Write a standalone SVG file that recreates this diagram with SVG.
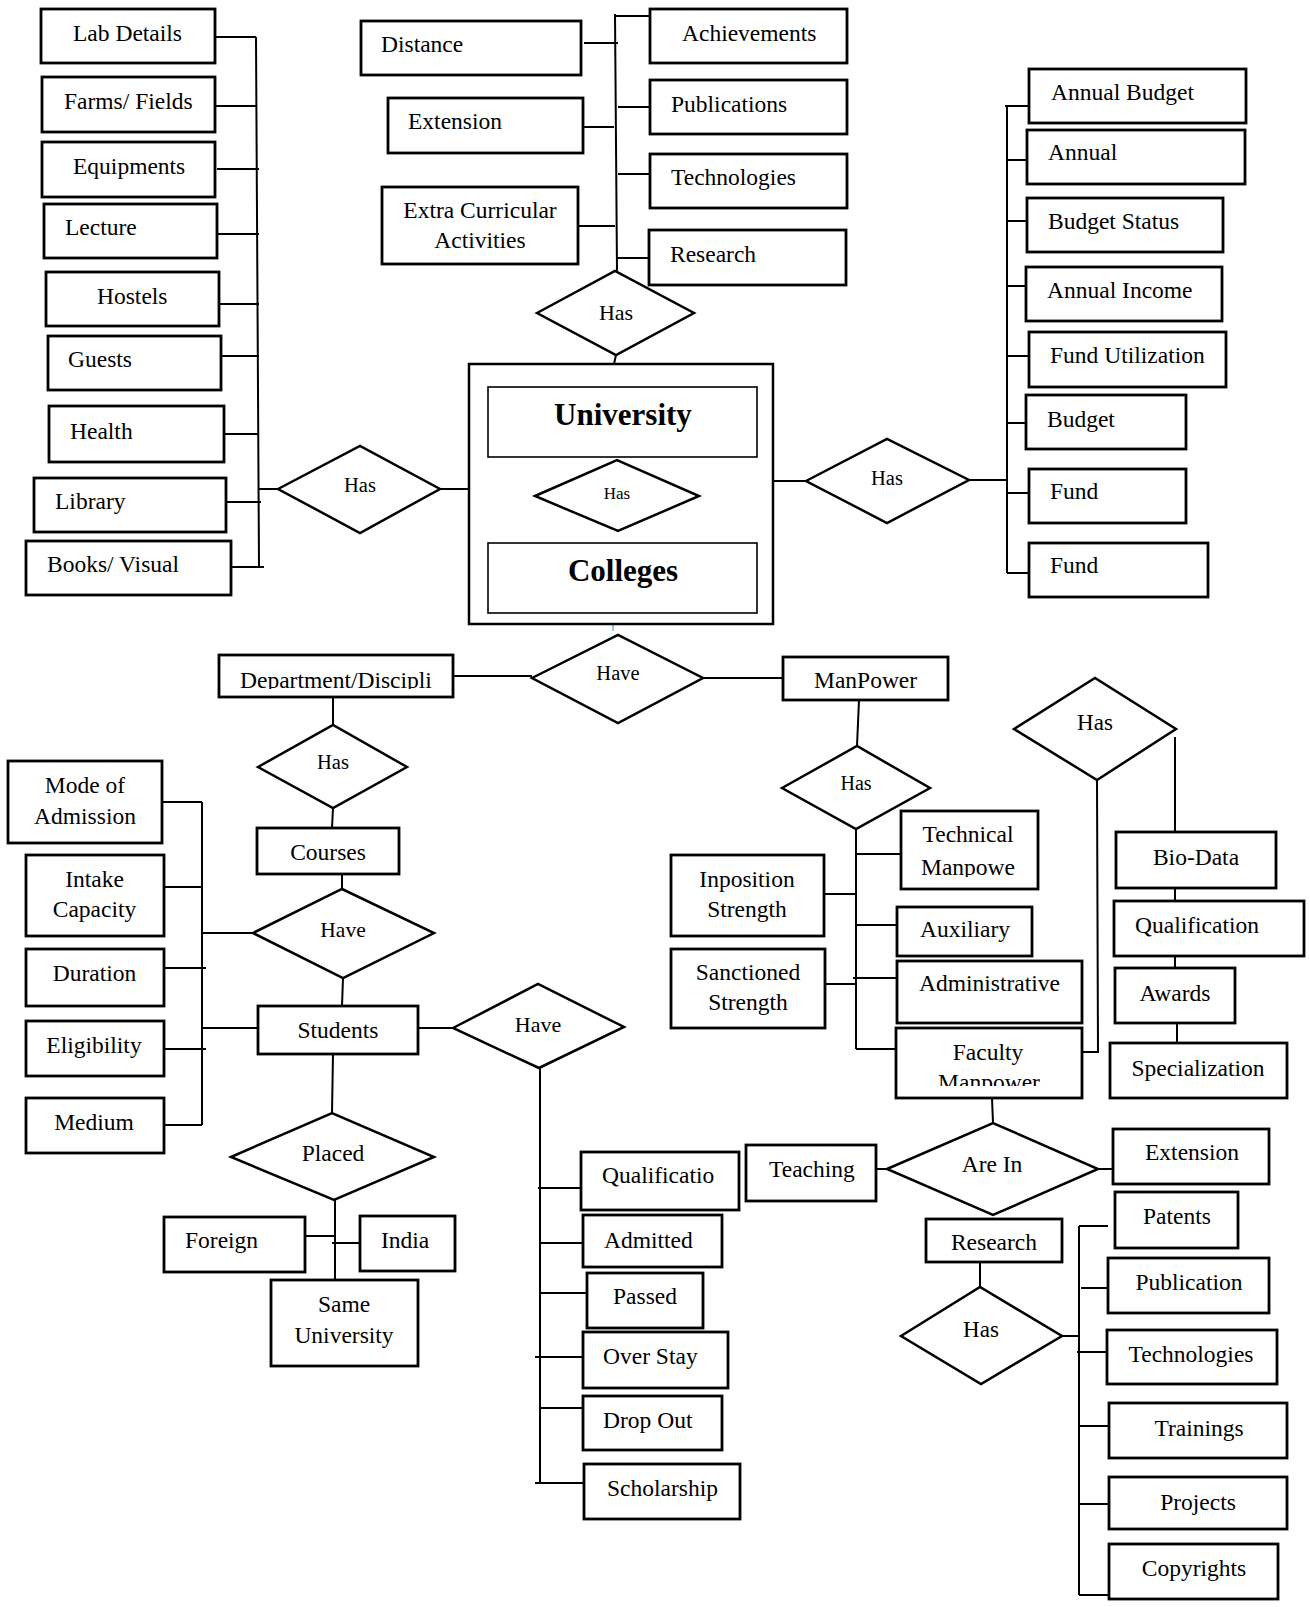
<svg xmlns="http://www.w3.org/2000/svg" width="1310" height="1607" viewBox="0 0 1310 1607">
<style>
.b{fill:#fff;stroke:#000;stroke-width:2.8}
.ib{fill:#fff;stroke:#000;stroke-width:1.6}
.d{fill:#fff;stroke:#000;stroke-width:2.5}
.c{stroke:#000;stroke-width:2;fill:none}
.t{font-family:"Liberation Serif","Times New Roman",serif;font-size:23.5px;fill:#000}
.m{text-anchor:middle}
.s20{font-size:20.5px}
.s22{font-size:22px}
.big{font-size:31px;font-weight:bold}
</style>
<defs>
<clipPath id="clipDept"><rect x="219" y="650" width="234" height="39"/></clipPath>
<clipPath id="clipTech"><rect x="901" y="805" width="137" height="72"/></clipPath>
<clipPath id="clipFac"><rect x="896" y="1020" width="186" height="66"/></clipPath>
</defs>
<rect width="1310" height="1607" fill="#fff"/>
<g id="connectors">
<path class="c" d="M256 37 L259 567 M215 37 H256 M215 106 H257 M217 169 H259 M217 234 H259 M219 304 H259 M221 356 H259 M224 434 H259 M226 502 H261 M231 567 H264 M259 489 H278"/>
<path class="c" d="M440 489 H469"/>
<path class="c" d="M615 14 L617 271 M584 43 H618 M581 127 H614 M578 226 H615 M615 16 H650 M618 107 H650 M618 174 H650 M617 258 H650"/>
<path class="c" d="M616 355 L614 364"/>
<path class="c" d="M617 457 V460 M618 531 V543"/>
<path class="c" d="M773 481 H806 M969 480 H1008 M1007 106 V573 M1005 106 H1029 M1007 160 H1027 M1007 221 H1027 M1007 286 H1026 M1007 356 H1029 M1007 423 H1026 M1007 493 H1029 M1007 573 H1029"/>
<path class="c" d="M448 676 H532 M703 678 H783 M859 700 L857 746"/>
<path class="c" d="M333 697 V725 M333 808 L332 828 M342 874 V889 M343 978 L342 1006"/>
<path class="c" d="M202 802 V1125 M159 802 H202 M164 887 H202 M202 933 H253 M160 968 H206 M202 1028 H258 M160 1049 H206 M164 1125 H202"/>
<path class="c" d="M333 1054 L332 1113 M335 1200 V1280 M305 1236 H335 M332 1243 H360"/>
<path class="c" d="M418 1028 H453 M540 1068 V1483 M538 1188 H581 M540 1243 H583 M540 1293 H587 M535 1357 H583 M540 1408 H583 M535 1483 H584"/>
<path class="c" d="M856 829 V1049 M856 854 H901 M824 894 H857 M856 925 H897 M853 978 H897 M825 984 H856 M856 1049 H896"/>
<path class="c" d="M1082 1052 H1098 L1097 780 M1175 737 V832 M1175 888 V901 M1175 956 V968 M1177 1023 V1043"/>
<path class="c" d="M992 1098 L993 1123 M876 1169 H887 M1098 1169 H1113"/>
<path class="c" d="M980 1262 V1287 M1062 1336 H1079 M1079 1226 V1595 M1079 1226 H1108 M1081 1288 H1108 M1077 1352 H1107 M1079 1426 H1109 M1079 1504 H1109 M1079 1595 H1109"/>
<path d="M613 625 V631" stroke="#5b9bd5" stroke-width="1.2"/>
</g>
<g id="lab-details"><rect class="b" x="41" y="9" width="174" height="54"/><text class="t" x="73" y="41">Lab Details</text></g>
<g id="farms-fields"><rect class="b" x="42" y="77" width="173" height="55"/><text class="t" x="64" y="109">Farms/ Fields</text></g>
<g id="equipments"><rect class="b" x="42" y="142" width="173" height="55"/><text class="t" x="73" y="174">Equipments</text></g>
<g id="lecture"><rect class="b" x="44" y="204" width="173" height="54"/><text class="t" x="65" y="235">Lecture</text></g>
<g id="hostels"><rect class="b" x="46" y="272" width="173" height="54"/><text class="t" x="97" y="304">Hostels</text></g>
<g id="guests"><rect class="b" x="48" y="336" width="173" height="54"/><text class="t" x="68" y="367">Guests</text></g>
<g id="health"><rect class="b" x="49" y="406" width="175" height="56"/><text class="t" x="70" y="439">Health</text></g>
<g id="library"><rect class="b" x="34" y="478" width="192" height="54"/><text class="t" x="55" y="509">Library</text></g>
<g id="books-visual"><rect class="b" x="26" y="541" width="205" height="54"/><text class="t" x="47" y="572">Books/ Visual</text></g>
<g id="has-left"><polygon class="d" points="278,489 360,446 440,489 360,533"/><text class="t s20 m" x="360" y="492">Has</text></g>
<g id="distance"><rect class="b" x="361" y="21" width="220" height="54"/><text class="t" x="381" y="52">Distance</text></g>
<g id="extension-top"><rect class="b" x="388" y="98" width="195" height="55"/><text class="t" x="408" y="129">Extension</text></g>
<g id="extra-curricular"><rect class="b" x="382" y="187" width="196" height="77"/><text class="t m" x="480" y="218">Extra Curricular</text><text class="t m" x="480" y="248">Activities</text></g>
<g id="achievements"><rect class="b" x="650" y="9" width="197" height="54"/><text class="t" x="682" y="41">Achievements</text></g>
<g id="publications"><rect class="b" x="650" y="80" width="197" height="54"/><text class="t" x="671" y="112">Publications</text></g>
<g id="technologies-top"><rect class="b" x="650" y="154" width="197" height="54"/><text class="t" x="671" y="185">Technologies</text></g>
<g id="research-top"><rect class="b" x="649" y="230" width="197" height="55"/><text class="t" x="670" y="262">Research</text></g>
<g id="has-top"><polygon class="d" points="537,313 615,271 694,313 616,355"/><text class="t s22 m" x="616" y="320">Has</text></g>
<g id="university-colleges">
<rect x="469" y="364" width="304" height="260" fill="#fff" stroke="#000" stroke-width="2.5"/>
<rect class="ib" x="488" y="387" width="269" height="70"/><text class="t big m" x="623" y="425">University</text>
<polygon class="d" points="535,496 617,460 699,496 618,531"/><text class="t m" style="font-size:17px" x="617" y="499">Has</text>
<rect class="ib" x="488" y="543" width="269" height="70"/><text class="t big m" x="623" y="581">Colleges</text>
</g>
<g id="has-right"><polygon class="d" points="806,481 887,439 969,480 887,523"/><text class="t s20 m" x="887" y="485">Has</text></g>
<g id="annual-budget"><rect class="b" x="1029" y="69" width="217" height="54"/><text class="t" x="1051" y="100">Annual Budget</text></g>
<g id="annual"><rect class="b" x="1027" y="130" width="218" height="54"/><text class="t" x="1048" y="160">Annual</text></g>
<g id="budget-status"><rect class="b" x="1027" y="198" width="196" height="54"/><text class="t" x="1048" y="229">Budget Status</text></g>
<g id="annual-income"><rect class="b" x="1026" y="267" width="196" height="54"/><text class="t" x="1047" y="298">Annual Income</text></g>
<g id="fund-utilization"><rect class="b" x="1029" y="332" width="197" height="55"/><text class="t" x="1050" y="363">Fund Utilization</text></g>
<g id="budget"><rect class="b" x="1026" y="395" width="160" height="54"/><text class="t" x="1047" y="427">Budget</text></g>
<g id="fund-1"><rect class="b" x="1029" y="469" width="157" height="54"/><text class="t" x="1050" y="499">Fund</text></g>
<g id="fund-2"><rect class="b" x="1029" y="543" width="179" height="54"/><text class="t" x="1050" y="573">Fund</text></g>
<g id="department"><rect class="b" x="219" y="655" width="234" height="42"/><text class="t" x="240" y="688" clip-path="url(#clipDept)">Department/Discipli</text></g>
<g id="have-center"><polygon class="d" points="532,678 618,635 703,678 618,723"/><text class="t s20 m" x="618" y="680">Have</text></g>
<g id="manpower"><rect class="b" x="783" y="657" width="165" height="43"/><text class="t" x="814" y="688">ManPower</text></g>
<g id="has-dept"><polygon class="d" points="258,767 333,725 407,767 333,808"/><text class="t s20 m" x="333" y="769">Has</text></g>
<g id="courses"><rect class="b" x="257" y="828" width="142" height="46"/><text class="t m" x="328" y="860">Courses</text></g>
<g id="have-courses"><polygon class="d" points="253,933 342,889 434,933 343,978"/><text class="t m" style="font-size:21.5px" x="343" y="937">Have</text></g>
<g id="students"><rect class="b" x="258" y="1006" width="160" height="48"/><text class="t m" x="338" y="1038">Students</text></g>
<g id="mode-of-admission"><rect class="b" x="8" y="761" width="154" height="82"/><text class="t m" x="85" y="793">Mode of</text><text class="t m" x="85" y="824">Admission</text></g>
<g id="intake-capacity"><rect class="b" x="26" y="855" width="138" height="81"/><text class="t m" x="94.5" y="887">Intake</text><text class="t m" x="94.5" y="917">Capacity</text></g>
<g id="duration"><rect class="b" x="26" y="949" width="138" height="57"/><text class="t m" x="94.5" y="981">Duration</text></g>
<g id="eligibility"><rect class="b" x="26" y="1021" width="138" height="55"/><text class="t m" x="94" y="1053">Eligibility</text></g>
<g id="medium"><rect class="b" x="26" y="1098" width="138" height="55"/><text class="t m" x="94" y="1130">Medium</text></g>
<g id="placed"><polygon class="d" points="231,1157 332,1113 434,1157 334,1200"/><text class="t m" x="333" y="1161">Placed</text></g>
<g id="foreign"><rect class="b" x="164" y="1217" width="141" height="55"/><text class="t" x="185" y="1248">Foreign</text></g>
<g id="india"><rect class="b" x="360" y="1216" width="95" height="55"/><text class="t" x="381" y="1248">India</text></g>
<g id="same-university"><rect class="b" x="271" y="1280" width="147" height="86"/><text class="t m" x="344" y="1312">Same</text><text class="t m" x="344" y="1343">University</text></g>
<g id="have-students"><polygon class="d" points="453,1028 538,984 624,1027 539,1068"/><text class="t s22 m" x="538" y="1032">Have</text></g>
<g id="qualificatio"><rect class="b" x="581" y="1152" width="158" height="58"/><text class="t" x="602" y="1183">Qualificatio</text></g>
<g id="admitted"><rect class="b" x="583" y="1215" width="139" height="52"/><text class="t" x="604" y="1248">Admitted</text></g>
<g id="passed"><rect class="b" x="587" y="1273" width="116" height="55"/><text class="t m" x="645" y="1304">Passed</text></g>
<g id="over-stay"><rect class="b" x="583" y="1332" width="145" height="56"/><text class="t" x="603" y="1364">Over Stay</text></g>
<g id="drop-out"><rect class="b" x="583" y="1396" width="139" height="54"/><text class="t" x="603" y="1428">Drop Out</text></g>
<g id="scholarship"><rect class="b" x="584" y="1464" width="156" height="55"/><text class="t" x="607" y="1496">Scholarship</text></g>
<g id="has-manpower"><polygon class="d" points="782,788 857,746 930,788 856,829"/><text class="t m" style="font-size:20px" x="856" y="790">Has</text></g>
<g id="technical-manpowe"><rect class="b" x="901" y="811" width="137" height="78"/><text class="t m" x="968" y="842">Technical</text><text class="t m" x="968" y="875" clip-path="url(#clipTech)">Manpowe</text></g>
<g id="inposition-strength"><rect class="b" x="671" y="855" width="153" height="81"/><text class="t m" x="747" y="887">Inposition</text><text class="t m" x="747" y="917">Strength</text></g>
<g id="sanctioned-strength"><rect class="b" x="671" y="949" width="154" height="79"/><text class="t m" x="748" y="980">Sanctioned</text><text class="t m" x="748" y="1010">Strength</text></g>
<g id="auxiliary"><rect class="b" x="897" y="907" width="135" height="49"/><text class="t" x="920" y="937">Auxiliary</text></g>
<g id="administrative"><rect class="b" x="897" y="961" width="185" height="62"/><text class="t" x="919" y="991">Administrative</text></g>
<g id="faculty-manpower"><rect class="b" x="896" y="1028" width="186" height="70"/><text class="t m" x="988" y="1060">Faculty</text><text class="t m" x="989" y="1090" clip-path="url(#clipFac)">Manpower</text></g>
<g id="has-faculty"><polygon class="d" points="1014,729 1095,678 1176,729 1097,780"/><text class="t m" style="font-size:23px" x="1095" y="730">Has</text></g>
<g id="bio-data"><rect class="b" x="1116" y="832" width="160" height="56"/><text class="t m" x="1196" y="865">Bio-Data</text></g>
<g id="qualification"><rect class="b" x="1114" y="901" width="190" height="55"/><text class="t" x="1135" y="933">Qualification</text></g>
<g id="awards"><rect class="b" x="1115" y="968" width="120" height="55"/><text class="t m" x="1175" y="1001">Awards</text></g>
<g id="specialization"><rect class="b" x="1110" y="1043" width="177" height="55"/><text class="t m" x="1198" y="1076">Specialization</text></g>
<g id="are-in"><polygon class="d" points="887,1169 993,1123 1098,1169 993,1215"/><text class="t m" x="992" y="1172">Are In</text></g>
<g id="teaching"><rect class="b" x="746" y="1145" width="130" height="56"/><text class="t" x="769" y="1177">Teaching</text></g>
<g id="extension-right"><rect class="b" x="1113" y="1129" width="156" height="55"/><text class="t m" x="1192" y="1160">Extension</text></g>
<g id="research-bottom"><rect class="b" x="926" y="1219" width="136" height="43"/><text class="t m" x="994" y="1250">Research</text></g>
<g id="has-research"><polygon class="d" points="901,1336 980,1287 1062,1336 981,1384"/><text class="t m" style="font-size:23px" x="981" y="1337">Has</text></g>
<g id="patents"><rect class="b" x="1115" y="1192" width="123" height="56"/><text class="t m" x="1177" y="1224">Patents</text></g>
<g id="publication"><rect class="b" x="1108" y="1258" width="161" height="55"/><text class="t m" x="1189" y="1290">Publication</text></g>
<g id="technologies-bottom"><rect class="b" x="1107" y="1330" width="170" height="54"/><text class="t m" x="1191" y="1362">Technologies</text></g>
<g id="trainings"><rect class="b" x="1109" y="1403" width="178" height="55"/><text class="t m" x="1199" y="1436">Trainings</text></g>
<g id="projects"><rect class="b" x="1109" y="1477" width="178" height="52"/><text class="t m" x="1198" y="1510">Projects</text></g>
<g id="copyrights"><rect class="b" x="1109" y="1544" width="169" height="55"/><text class="t m" x="1194" y="1576">Copyrights</text></g>
</svg>
